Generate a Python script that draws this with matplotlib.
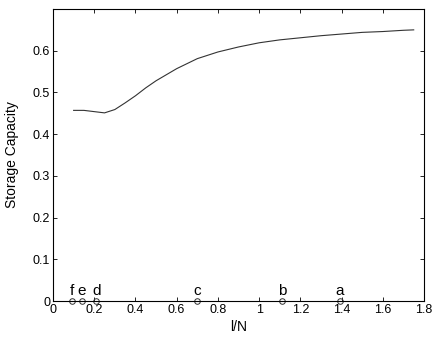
import numpy as np
import matplotlib

matplotlib.use("Agg")
import matplotlib.pyplot as plt

plt.rcParams["font.family"] = ["Liberation Sans", "DejaVu Sans"]

# storage capacity curve
load = [0.10, 0.15, 0.20, 0.25, 0.30, 0.35, 0.40, 0.45, 0.50, 0.60, 0.70, 0.80, 0.90,
        1.00, 1.10, 1.20, 1.30, 1.40, 1.50, 1.60, 1.70, 1.75]
capacity = [0.457, 0.457, 0.454, 0.451, 0.459, 0.475, 0.492, 0.511, 0.528, 0.557, 0.581,
            0.597, 0.609, 0.619, 0.626, 0.631, 0.636, 0.640, 0.644, 0.646, 0.649, 0.650]

# labelled points on the axis
point_x = [1.39, 1.11, 0.70, 0.21, 0.14, 0.092]
point_labels = ["a", "b", "c", "d", "e", "f"]

fig = plt.figure(figsize=(4.36, 3.4), dpi=100)
ax = fig.add_axes([0.1216, 0.1147, 0.8509, 0.8588])

ax.plot(load, capacity, color="#333333", lw=0.8)
ax.plot(point_x, np.zeros(len(point_x)), "o", mfc="none", mec="#333333",
        ms=4, mew=0.7, clip_on=False)
for x, lab in zip(point_x, point_labels):
    ax.text(x, 0.006, lab, ha="center", va="bottom", fontsize=11)

ax.set_xlim(0, 1.8)
ax.set_ylim(0, 0.7)
ax.set_xticks(np.arange(0, 1.81, 0.2))
ax.set_xticklabels(["0", "0.2", "0.4", "0.6", "0.8", "1", "1.2", "1.4", "1.6", "1.8"])
ax.set_yticks(np.arange(0, 0.61, 0.1))
ax.set_yticklabels(["0", "0.1", "0.2", "0.3", "0.4", "0.5", "0.6"])
ax.tick_params(direction="in", top=True, right=True, labelsize=9, length=3, width=0.6, pad=2)
for s in ax.spines.values():
    s.set_linewidth(0.8)
ax.set_xlabel("l/N", fontsize=10, labelpad=3)
ax.set_ylabel("Storage Capacity", fontsize=10, labelpad=10)

fig.savefig("out.png", dpi=100)
